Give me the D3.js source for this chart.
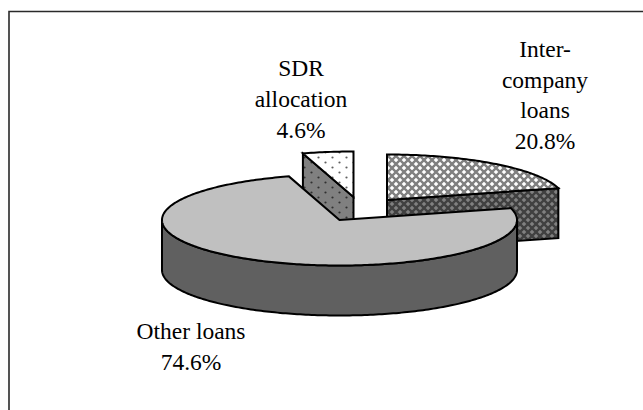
<!DOCTYPE html>
<html>
<head>
<meta charset="utf-8">
<script src="https://cdn.jsdelivr.net/npm/d3@7"></script>
<style>
  html, body { margin: 0; padding: 0; background: #fff; }
  svg { display: block; }
  text { font-family: "Liberation Serif", serif; font-size: 23.5px; fill: #000; text-anchor: middle; }
</style>
</head>
<body>
<div class="pie-chart"></div>
<script>
var categories = ["Inter-company loans", "Other loans", "SDR allocation"];
var shares = [20.8, 74.6, 4.6];
var labelLines = [
  ["Inter-", "company", "loans", "20.8%"],
  ["Other loans", "74.6%"],
  ["SDR", "allocation", "4.6%"]
];

var width = 643, height = 410;
var center = {x: 339.5, y: 220};
var rx = 177.5, ry = 45.5, depth = 50;

// how far each slice was pulled out, and where its label sits
var offsets = [{x: 47.5, y: -20}, {x: 0, y: 0}, {x: 14, y: -23}];
var labelPos = [{x: 545, y: 57}, {x: 191, y: 339}, {x: 301, y: 76}];
var lineGap = [30.7, 31, 31];
var topFill = ["url(#hatchLight)", "#c0c0c0", "url(#dotsLight)"];
var wallFill = ["url(#hatchDark)", "#606060", "url(#dotsDark)"];

var svg = d3.select(".pie-chart").append("svg")
  .attr("width", width)
  .attr("height", height);

var defs = svg.append("defs");

function hatch(id, bg, line) {
  var p = defs.append("pattern").attr("id", id)
    .attr("patternUnits", "userSpaceOnUse")
    .attr("width", 8).attr("height", 8);
  p.append("rect").attr("width", 8).attr("height", 8).attr("fill", bg);
  p.append("path")
    .attr("d", "M0,0L8,8M8,0L0,8")
    .attr("stroke", line).attr("stroke-width", 2.4).attr("fill", "none");
}
function dots(id, bg, dot) {
  var p = defs.append("pattern").attr("id", id)
    .attr("patternUnits", "userSpaceOnUse")
    .attr("width", 14).attr("height", 10);
  p.append("rect").attr("width", 14).attr("height", 10).attr("fill", bg);
  p.selectAll("circle").data([[3.5, 2.5], [10.5, 7.5]]).enter().append("circle")
    .attr("cx", function(d) { return d[0]; })
    .attr("cy", function(d) { return d[1]; })
    .attr("r", 1.1).attr("fill", dot);
}
hatch("hatchLight", "#ffffff", "#808080");
hatch("hatchDark", "#808080", "#404040");
dots("dotsLight", "#ffffff", "#606060");
dots("dotsDark", "#808080", "#303030");

var pie = d3.pie().sort(null).value(function(d) { return d; });
var slices = pie(shares);
var line = d3.line();

// point on the tilted rim, angle from 12 o'clock going clockwise
function rim(c, a, drop) {
  return [c.x + rx * Math.sin(a), c.y - ry * Math.cos(a) + (drop || 0)];
}
function arcPoints(c, a0, a1, drop) {
  var n = Math.max(2, Math.ceil(Math.abs(a1 - a0) * 60));
  return d3.range(n + 1).map(function(i) {
    return rim(c, a0 + (a1 - a0) * i / n, drop);
  });
}

var g = svg.append("g")
  .attr("stroke", "#000")
  .attr("stroke-width", 2)
  .attr("stroke-linejoin", "miter");

// back slices first so the big slice can cover them
[2, 0, 1].forEach(function(i) {
  var s = slices[i];
  var c = {x: center.x + offsets[i].x, y: center.y + offsets[i].y};
  var wall;
  if (i === 1) {
    // curved outer wall, only the front half shows
    wall = arcPoints(c, Math.PI / 2, 1.5 * Math.PI, 0)
      .concat(arcPoints(c, 1.5 * Math.PI, Math.PI / 2, depth));
  } else if (i === 0) {
    // cut face on the end of the slice
    var e = rim(c, s.endAngle);
    wall = [[c.x, c.y], e, [e[0], e[1] + depth], [c.x, c.y + depth]];
  } else {
    var b = rim(c, s.startAngle);
    wall = [b, [c.x, c.y], [c.x, c.y + depth], [b[0], b[1] + depth]];
  }
  g.append("path")
    .attr("d", line(wall) + "Z")
    .attr("fill", wallFill[i]);
  g.append("path")
    .attr("d", line([[c.x, c.y]].concat(arcPoints(c, s.startAngle, s.endAngle))) + "Z")
    .attr("fill", topFill[i]);
});

// chart frame, only top and left are inside the crop
svg.append("path")
  .attr("d", "M9,410V11.5H643")
  .attr("fill", "none")
  .attr("stroke", "#2a2a2a")
  .attr("stroke-width", 1.6);

labelLines.forEach(function(lines, i) {
  var t = svg.append("text").attr("aria-label", categories[i]);
  t.selectAll("tspan").data(lines).enter().append("tspan")
    .attr("x", labelPos[i].x)
    .attr("y", function(d, j) { return labelPos[i].y + j * lineGap[i]; })
    .text(function(d) { return d; });
});
</script>
</body>
</html>
